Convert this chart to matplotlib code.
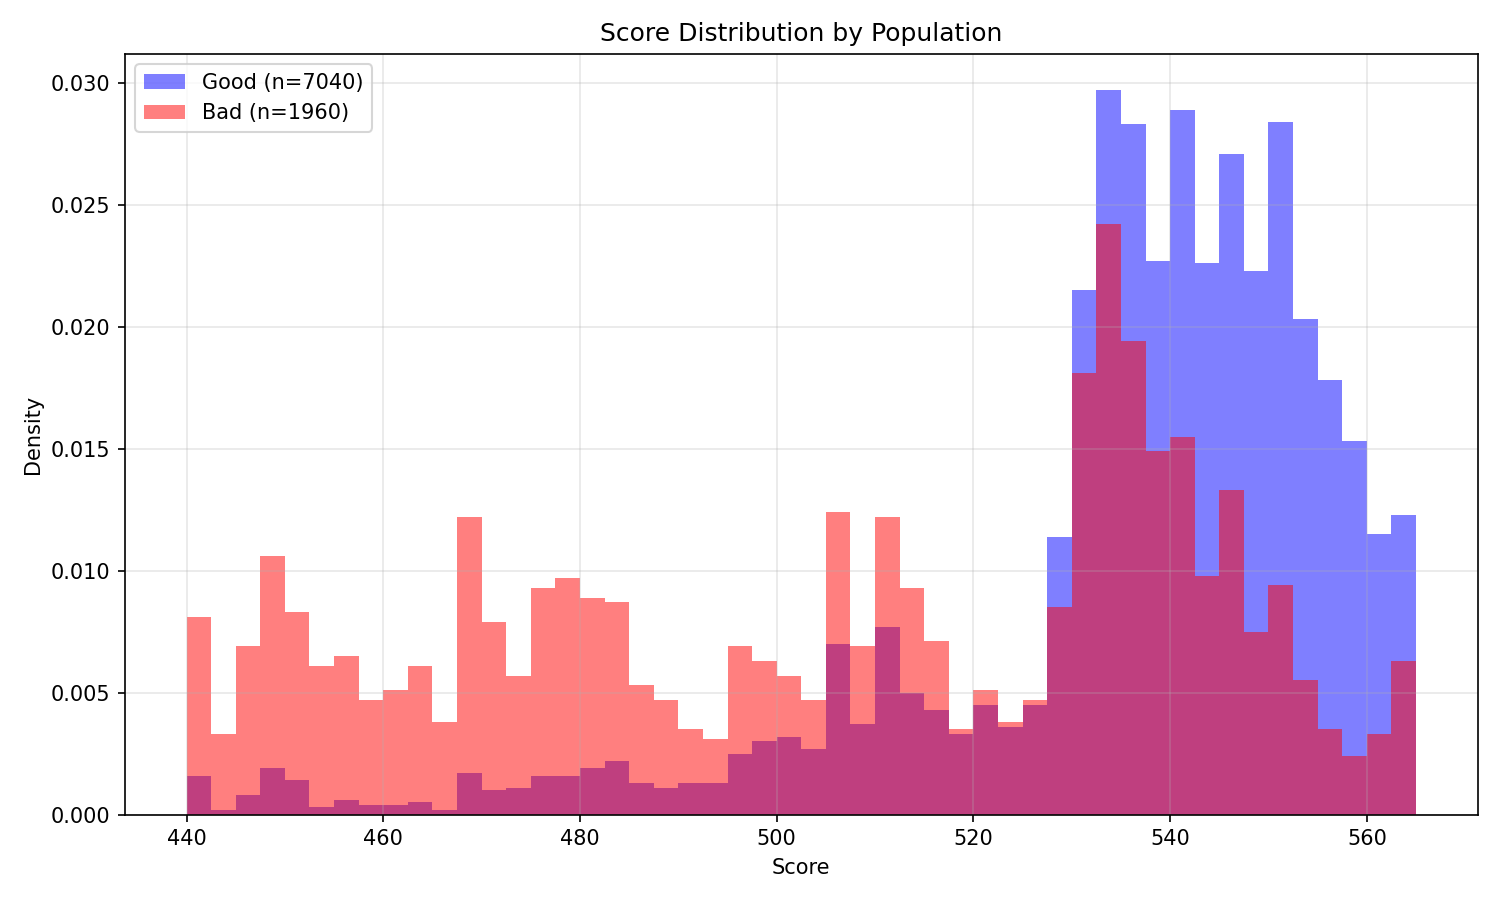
import numpy as np
import matplotlib
matplotlib.use("Agg")
import matplotlib.pyplot as plt

# bin edges: 50 bins from 440 to 565
BIN_START = 440.0
BIN_WIDTH = 2.5
N_BINS = 50

good_density = [
    0.0016, 0.0002, 0.0008, 0.0019, 0.0014, 0.0003, 0.0006, 0.0004, 0.0004, 0.0005,
    0.0002, 0.0017, 0.0010, 0.0011, 0.0016, 0.0016, 0.0019, 0.0022, 0.0013, 0.0011,
    0.0013, 0.0013, 0.0025, 0.0030, 0.0032, 0.0027, 0.0070, 0.0037, 0.0077, 0.0050,
    0.0043, 0.0033, 0.0045, 0.0036, 0.0045, 0.0114, 0.0215, 0.0297, 0.0283, 0.0227,
    0.0289, 0.0226, 0.0271, 0.0223, 0.0284, 0.0203, 0.0178, 0.0153, 0.0115, 0.0123,
]
bad_density = [
    0.0081, 0.0033, 0.0069, 0.0106, 0.0083, 0.0061, 0.0065, 0.0047, 0.0051, 0.0061,
    0.0038, 0.0122, 0.0079, 0.0057, 0.0093, 0.0097, 0.0089, 0.0087, 0.0053, 0.0047,
    0.0035, 0.0031, 0.0069, 0.0063, 0.0057, 0.0047, 0.0124, 0.0069, 0.0122, 0.0093,
    0.0071, 0.0035, 0.0051, 0.0038, 0.0047, 0.0085, 0.0181, 0.0242, 0.0194, 0.0149,
    0.0155, 0.0098, 0.0133, 0.0075, 0.0094, 0.0055, 0.0035, 0.0024, 0.0033, 0.0063,
]
n_good = 7040
n_bad = 1960

edges = BIN_START + BIN_WIDTH * np.arange(N_BINS + 1)
centers = (edges[:-1] + edges[1:]) / 2

fig, ax = plt.subplots(figsize=(10, 6), dpi=150)
ax.hist(centers, bins=edges, weights=good_density, alpha=0.5, color='blue',
        label=f"Good (n={n_good})")
ax.hist(centers, bins=edges, weights=bad_density, alpha=0.5, color='red',
        label=f"Bad (n={n_bad})")

ax.set_title("Score Distribution by Population")
ax.set_xlabel("Score")
ax.set_ylabel("Density")
ax.legend(loc='upper left')
ax.grid(True, alpha=0.3)

plt.tight_layout()
plt.savefig("out.png", dpi=150)
